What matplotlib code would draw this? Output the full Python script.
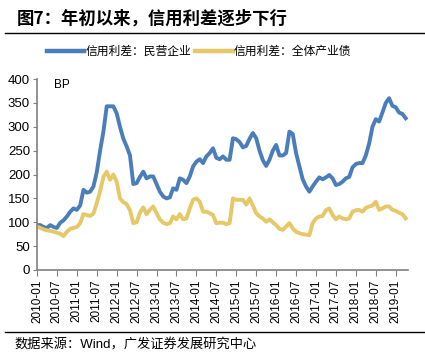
import numpy as np
import pandas as pd
from matplotlib import pyplot as plt

plt.rcParams['font.family'] = ['Liberation Sans', 'Noto Sans CJK SC', 'DejaVu Sans']

# monthly spreads (BP), 2010-01 .. 2019-04
months = pd.date_range('2010-01-01', periods=112, freq='MS')
private_spread = [
    94, 94, 90, 88, 94, 90, 88, 99, 104, 112, 122, 129,
    126, 135, 168, 162, 164, 175, 205, 250, 290, 343, 343, 343,
    328, 300, 275, 259, 240, 180, 182, 195, 206, 192, 196, 196,
    180, 164, 154, 150, 152, 171, 168, 192, 189, 182, 196, 217,
    227, 232, 224, 238, 245, 255, 235, 232, 238, 231, 231, 276,
    274, 268, 257, 260, 275, 287, 276, 250, 230, 218, 231, 250,
    262, 240, 240, 245, 290, 285, 245, 217, 190, 175, 164, 175,
    185, 194, 190, 194, 199, 192, 178, 180, 185, 192, 195, 215,
    222, 224, 224, 240, 265, 300, 316, 311, 330, 350, 360, 344,
    341, 330, 327, 318,
]
industry_spread = [
    91, 88, 85, 83, 82, 80, 78, 76, 71, 80, 86, 88,
    90, 98, 117, 115, 113, 118, 140, 165, 195, 206, 189, 200,
    185, 150, 142, 138, 125, 98, 100, 120, 131, 117, 126, 133,
    119, 106, 99, 96, 98, 112, 106, 117, 106, 108, 129, 147,
    150, 143, 122, 122, 119, 115, 98, 99, 99, 96, 98, 150,
    147, 147, 147, 137, 150, 135, 119, 112, 108, 101, 106, 100,
    94, 86, 84, 91, 98, 87, 80, 77, 75, 74, 73, 98,
    108, 112, 113, 125, 129, 115, 106, 112, 108, 106, 108, 122,
    125, 126, 122, 130, 133, 135, 143, 126, 129, 133, 133, 126,
    124, 120, 117, 108,
]
series_names = ['信用利差：民营企业', '信用利差：全体产业债']
colors = ['#4a7ebb', '#e6c868']

fig = plt.figure(figsize=(4.25, 3.58), dpi=100)
ax = fig.add_axes([0.087, 0.246, 0.873, 0.533])

x = np.arange(len(months))
ax.plot(x, private_spread, color=colors[0], lw=2.8, label=series_names[0], solid_joinstyle='round')
ax.plot(x, industry_spread, color=colors[1], lw=2.8, label=series_names[1], solid_joinstyle='round')

ax.set_xlim(0, 111.7)
ax.set_ylim(0, 400)
ax.set_yticks(range(0, 401, 50))
tick_pos = x[::6]
ax.set_xticks(tick_pos)
ax.set_xticklabels([m.strftime('%Y-%m') for m in months[::6]], rotation=90, fontsize=8.5)
ax.tick_params(axis='y', labelsize=9.5, length=3, color='#808080', pad=2)
ax.tick_params(axis='x', length=4, color='#808080', pad=3)
for s in ['top', 'right']:
    ax.spines[s].set_visible(False)
for s in ['left', 'bottom']:
    ax.spines[s].set_color('#808080')
    ax.spines[s].set_linewidth(1.2)
ax.text(0.045, 1.0, 'BP', transform=ax.transAxes, fontsize=8.5, va='top')

leg = fig.legend(loc='center', bbox_to_anchor=(0.468, 0.855), ncol=2, frameon=False,
                 fontsize=8.5, handlelength=3.2, handletextpad=0.1, columnspacing=0.3)
for line in leg.get_lines():
    line.set_linewidth(3.2)

fig.text(0.04, 0.948, '图7：年初以来，信用利差逐步下行', fontsize=12.5, fontweight='bold',
         family=['Noto Sans CJK SC'], va='center')
fig.add_artist(plt.Line2D([0.012, 1.0], [0.908, 0.908], color='black', lw=1))
fig.add_artist(plt.Line2D([0.012, 1.0], [0.073, 0.073], color='black', lw=1))
fig.text(0.035, 0.035, '数据来源：Wind，广发证券发展研究中心', fontsize=9.5, va='center')

fig.savefig('out.png', dpi=100)
